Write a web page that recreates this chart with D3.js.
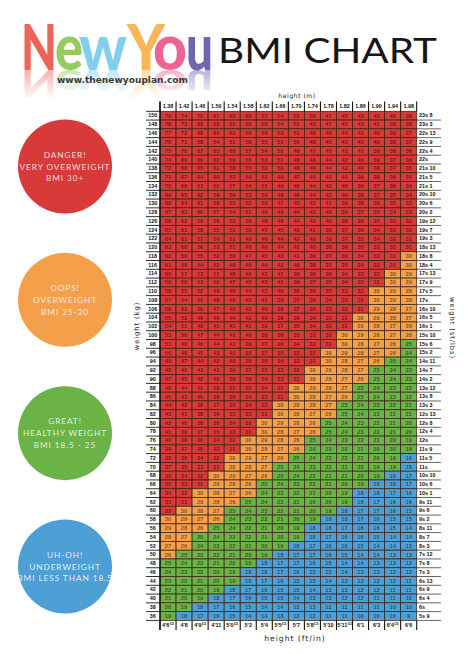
<!DOCTYPE html>
<html><head><meta charset="utf-8">
<script src="https://cdn.jsdelivr.net/npm/d3@7"></script>
<style>body{margin:0;background:#fff}svg{display:block}</style>
</head><body>
<svg id="c" width="474" height="654"></svg>
<script>
// ---------------- DATA ----------------
const heights = ["1.38","1.42","1.46","1.50","1.54","1.58","1.62","1.66","1.70","1.74","1.78","1.82","1.86","1.90","1.94","1.98"];
const heightsFtIn = ["4'6½","4'8","4'9½","4'11","5'0½","5'2","5'4","5'5½","5'7","5'8½","5'10","5'11½","6'1","6'3","6'4½","6'6"];
const weights = [150,148,146,144,142,140,138,136,134,132,130,128,126,124,122,120,118,116,114,112,110,108,106,104,102,100,98,96,94,92,90,88,86,84,82,80,78,76,74,72,70,68,66,64,62,60,58,56,54,52,50,48,46,44,42,40,38,36];
const stLbs = ["23s 8","23s 3","22s 13","22s 9","22s 4","22s","21s 10","21s 5","21s 1","20s 10","20s 6","20s 2","19s 12","19s 7","19s 3","18s 13","18s 8","18s 4","17s 13","17s 9","17s 5","17s","16s 10","16s 5","16s 1","15s 10","15s 6","15s 2","14s 11","14s 7","14s 2","13s 12","13s 8","13s 3","12s 13","12s 8","12s 4","12s","11s 9","11s 5","11s","10s 10","10s 6","10s 1","9s 11","9s 6","9s 2","8s 11","8s 7","8s 3","7s 12","7s 8","7s 3","6s 13","6s 9","6s 4","6s","5s 9"];
// BMI values, one row per weight (kg), one column per height (m)
const bmiRows = [
"79 74 70 67 63 60 57 54 52 50 47 45 43 42 40 38",
"78 73 69 66 62 59 56 54 51 49 47 45 43 41 39 38",
"77 72 68 65 62 58 56 53 51 48 46 44 42 40 39 37",
"76 71 68 64 61 58 55 52 50 48 45 43 42 40 38 37",
"75 70 67 63 60 57 54 52 49 47 45 43 41 39 38 36",
"74 69 66 62 59 56 53 51 48 46 44 42 40 39 37 36",
"72 68 65 61 58 55 53 50 48 46 44 42 40 38 37 35",
"71 67 64 60 57 54 52 49 47 45 43 41 39 38 36 35",
"70 66 63 60 57 54 51 49 46 44 42 40 39 37 36 34",
"69 65 62 59 56 53 50 48 46 44 42 40 38 37 35 34",
"68 64 61 58 55 52 50 47 45 43 41 39 38 36 35 33",
"67 63 60 57 54 51 49 46 44 42 40 39 37 35 34 33",
"66 62 59 56 53 50 48 46 44 42 40 38 36 35 33 32",
"65 61 58 55 52 50 47 45 43 41 39 37 36 34 33 32",
"64 61 57 54 51 49 46 44 42 40 39 37 35 34 32 31",
"63 60 56 53 51 48 46 44 42 40 38 36 35 33 32 31",
"62 59 55 52 50 47 45 43 41 39 37 36 34 33 31 30",
"61 58 54 52 49 46 44 42 40 38 37 35 34 32 31 30",
"60 57 53 51 48 46 43 41 39 38 36 34 33 32 30 29",
"59 56 53 50 47 45 43 41 39 37 35 34 32 31 30 29",
"58 55 52 49 46 44 42 40 38 36 35 33 32 30 29 28",
"57 54 51 48 46 43 41 39 37 36 34 33 31 30 29 28",
"56 53 50 47 45 42 40 38 37 35 33 32 31 29 28 27",
"55 52 49 46 44 42 40 38 36 34 33 31 30 29 28 27",
"54 51 48 45 43 41 39 37 35 34 32 31 29 28 27 26",
"53 50 47 44 42 40 38 36 35 33 32 30 29 28 27 26",
"51 49 46 44 41 39 37 36 34 32 31 30 28 27 26 25",
"50 48 45 43 40 38 37 35 33 32 30 29 28 27 26 24",
"49 47 44 42 40 38 36 34 33 31 30 28 27 26 25 24",
"48 46 43 41 39 37 35 33 32 30 29 28 27 25 24 23",
"47 45 42 40 38 36 34 33 31 30 28 27 26 25 24 23",
"46 44 41 39 37 35 34 32 30 29 28 27 25 24 23 22",
"45 43 40 38 36 34 33 31 30 28 27 26 25 24 23 22",
"44 42 39 37 35 34 32 30 29 28 27 25 24 23 22 21",
"43 41 38 36 35 33 31 30 28 27 26 25 24 23 22 21",
"42 40 38 36 34 32 30 29 28 26 25 24 23 22 21 20",
"41 39 37 35 33 31 30 28 27 26 25 24 23 22 21 20",
"40 38 36 34 32 30 29 28 26 25 24 23 22 21 20 19",
"39 37 35 33 31 30 28 27 26 24 23 22 21 20 20 19",
"38 36 34 32 30 29 27 26 25 24 23 22 21 20 19 18",
"37 35 33 31 30 28 27 25 24 23 22 21 20 19 19 18",
"36 34 32 30 29 27 26 25 24 22 21 21 20 19 18 17",
"35 33 31 29 28 26 25 24 23 22 21 20 19 18 18 17",
"34 32 30 28 27 26 24 23 22 21 20 19 18 18 17 16",
"33 31 29 28 26 25 24 22 21 20 20 19 18 17 16 16",
"32 30 28 27 25 24 23 22 21 20 19 18 17 17 16 15",
"30 29 27 26 24 23 22 21 20 19 18 18 17 16 15 15",
"29 28 26 25 24 22 21 20 19 18 18 17 16 16 15 14",
"28 27 25 24 23 22 21 20 19 18 17 16 16 15 14 14",
"27 26 24 23 22 21 20 19 18 17 16 16 15 14 14 13",
"26 25 23 22 21 20 19 18 17 17 16 15 14 14 13 13",
"25 24 23 21 20 19 18 17 17 16 15 14 14 13 13 12",
"24 23 22 20 19 18 18 17 16 15 15 14 13 13 12 12",
"23 22 21 20 19 18 17 16 15 15 14 13 13 12 12 11",
"22 21 20 19 18 17 16 15 15 14 13 13 12 12 11 11",
"21 20 19 18 17 16 15 15 14 13 13 12 12 11 11 10",
"20 19 18 17 16 15 14 14 13 13 12 11 11 11 10 10",
"19 18 17 16 15 14 14 13 12 12 11 11 10 10 10 9"
];
const categories = ["red","orange","green","blue"];
const categoryLines = [
  ["DANGER!","VERY OVERWEIGHT","BMI 30+"],
  ["OOPS!","OVERWEIGHT","BMI 25-30"],
  ["GREAT!","HEALTHY WEIGHT","BMI 18.5 - 25"],
  ["UH-OH!","UNDERWEIGHT","BMI LESS THAN 18.5"]
];
const logoLetters = ["N","e","w","Y","o","u"];

// ---------------- STYLE ----------------
const catColor = {red:"#d83a39", orange:"#f4a04a", green:"#6bb247", blue:"#4f9fd7"};
const logoColors = ["#ea4a3c","#84c441","#6ec6ec","#f7aa3c","#e94a84","#5b4aa0"];
const logoX = [21,55,79,127,153,186];
const logoW = [36,28,48,38,34,27];

const bmi = bmiRows.map(r => r.split(" ").map(Number));
const svg = d3.select("#c");
const defs = svg.append("defs");
const lg = defs.append("linearGradient").attr("id","fadeG").attr("x1",0).attr("y1",0).attr("x2",0).attr("y2",1);
lg.append("stop").attr("offset",0).attr("stop-color","#fff").attr("stop-opacity",0.5);
lg.append("stop").attr("offset",1).attr("stop-color","#fff").attr("stop-opacity",0);
defs.append("mask").attr("id","fadeM").attr("maskUnits","userSpaceOnUse")
  .append("rect").attr("x",0).attr("y",70).attr("width",240).attr("height",30).attr("fill","url(#fadeG)");

// ---------------- LOGO ----------------
const logo = svg.append("g");
const logoText = logo.append("text").attr("id","logoText").attr("y",70)
  .attr("font-family","Lato, 'Open Sans', sans-serif").attr("font-weight",900).attr("font-size",62);
logoText.selectAll("tspan").data(logoLetters).join("tspan")
  .attr("x",(d,i)=>logoX[i]).attr("textLength",(d,i)=>logoW[i]).attr("lengthAdjust","spacingAndGlyphs")
  .attr("fill",(d,i)=>logoColors[i]).attr("fill-opacity",0.86).text(d=>d);
// faded reflection (a <use> clone of the logo word)
logo.append("g").attr("mask","url(#fadeM)")
  .append("use").attr("href","#logoText")
  .attr("transform","translate(0,70) scale(1,-0.6) translate(0,-70)");
logo.append("text").attr("x",57).attr("y",83).attr("textLength",131).attr("lengthAdjust","spacingAndGlyphs")
  .attr("font-family","'DejaVu Sans', sans-serif").attr("font-weight","bold").attr("font-size",8.5)
  .attr("fill","#3a3a3a").text("www.thenewyouplan.com");
svg.append("text").attr("x",218).attr("y",63).attr("textLength",219).attr("lengthAdjust","spacingAndGlyphs")
  .attr("font-family","Lato, 'Noto Sans', sans-serif").attr("font-size",34).attr("fill","#161616").text("BMI CHART");

// ---------------- LEGEND CIRCLES ----------------
const cy = d3.scalePoint().domain(categories).range([166.5, 566.5]);
const leg = svg.append("g").selectAll("g").data(categories).join("g")
  .attr("transform",d=>`translate(65,${cy(d)})`);
leg.append("circle").attr("r",47).attr("fill",d=>catColor[d]);
leg.each(function(d,i){
  const g = d3.select(this);
  categoryLines[i].forEach((t,k)=>{
    g.append("text").attr("y",(k-1)*11.7+3).attr("text-anchor","middle")
      .attr("font-family","Lato, 'Open Sans', sans-serif").attr("font-size",8.3)
      .attr("letter-spacing",0.9).attr("fill","#fff").attr("fill-opacity",0.82).text(t);
  });
});

// ---------------- TABLE ----------------
const x = d3.scaleBand().domain(heights).range([160, 416.7]);
const y = d3.scaleBand().domain(weights).range([111.3, 620.4]);
const color = d3.scaleThreshold().domain([18.5, 25.5, 30.5])
  .range([catColor.blue, catColor.green, catColor.orange, catColor.red]);
const cells = [];
weights.forEach((w,i)=>heights.forEach((h,j)=>cells.push({w,h,v:bmi[i][j]})));
const tbl = svg.append("g");
tbl.selectAll("rect").data(cells).join("rect")
  .attr("x",d=>x(d.h)).attr("y",d=>y(d.w)).attr("width",x.bandwidth()).attr("height",y.bandwidth())
  .attr("fill",d=>color(d.v)).attr("stroke","#3a2217").attr("stroke-width",0.75);
tbl.selectAll("text").data(cells).join("text")
  .attr("x",d=>x(d.h)+x.bandwidth()/2).attr("y",d=>y(d.w)+y.bandwidth()/2+2)
  .attr("text-anchor","middle").attr("font-family","'Liberation Sans', Arial, sans-serif")
  .attr("font-weight","bold").attr("font-size",5.8).attr("fill","#000").attr("fill-opacity",0.5)
  .text(d=>d.v);

const fontAxis = "'Liberation Sans', Arial, sans-serif";
function styleAxis(g){
  g.select(".domain").remove();
  g.selectAll("text").attr("font-family",fontAxis).attr("font-weight","bold").attr("font-size",5.4).attr("fill","#111");
}
// top axis: height (m)
svg.append("g").attr("transform","translate(0,111.3)")
  .call(d3.axisTop(x).tickSize(0).tickPadding(3.2)).call(styleAxis);
// bottom axis: height (ft/in)
const bAx = svg.append("g").attr("transform","translate(0,620.4)")
  .call(d3.axisBottom(x).tickSize(0).tickPadding(3).tickFormat((d,i)=>heightsFtIn[i])).call(styleAxis);
bAx.selectAll("text").each(function(){
  const t = d3.select(this), s = t.text();
  if (s.includes("½")) {
    t.text(s.replace("½",""));
    t.append("tspan").attr("font-size",3.3).attr("dy",-1.8).text("1/2");
  }
});
// left axis: weight (kg)
svg.append("g").attr("transform","translate(160,0)")
  .call(d3.axisLeft(y).tickSize(0).tickPadding(0)).call(styleAxis)
  .selectAll("text").attr("x",-7.3).attr("text-anchor","middle");
// right axis: weight (st/lbs)
svg.append("g").attr("transform","translate(416.7,0)")
  .call(d3.axisRight(y).tickSize(0).tickPadding(2.3).tickFormat((d,i)=>stLbs[i])).call(styleAxis);

// rules under row labels
const rules = svg.append("g").attr("stroke","#1a1a1a").attr("stroke-width",0.9);
rules.selectAll("line.l").data(weights).join("line").attr("class","l")
  .attr("x1",146).attr("x2",160).attr("y1",d=>y(d)+y.bandwidth()).attr("y2",d=>y(d)+y.bandwidth());
rules.append("line").attr("x1",146).attr("x2",160).attr("y1",y(weights[0])).attr("y2",y(weights[0]));
rules.selectAll("line.r").data(weights).join("line").attr("class","r")
  .attr("x1",416.7).attr("x2",441).attr("y1",d=>y(d)+y.bandwidth()).attr("y2",d=>y(d)+y.bandwidth())
  .attr("stroke","#555");
// column separators in header and footer rows
const bounds = heights.map(h=>x(h)).concat([x(heights[heights.length-1])+x.bandwidth()]);
const sep = svg.append("g").attr("stroke","#111").attr("stroke-width",1.1);
sep.selectAll("line.t").data(bounds).join("line").attr("class","t")
  .attr("x1",d=>d).attr("x2",d=>d).attr("y1",101.5).attr("y2",111.3);
sep.selectAll("line.b").data(bounds).join("line").attr("class","b")
  .attr("x1",d=>d).attr("x2",d=>d).attr("y1",620.4).attr("y2",630);
svg.append("line").attr("x1",160).attr("x2",160).attr("y1",101.5).attr("y2",630)
  .attr("stroke","#111").attr("stroke-width",1.4);

// axis titles
const titleFont = "'DejaVu Sans', sans-serif";
svg.append("text").attr("x",297).attr("y",98).attr("text-anchor","middle")
  .attr("font-family",titleFont).attr("font-size",6.2).attr("letter-spacing",0.5).attr("fill","#222").text("height (m)");
svg.append("text").attr("x",295).attr("y",641).attr("text-anchor","middle")
  .attr("font-family",titleFont).attr("font-size",7.6).attr("letter-spacing",1).attr("fill","#222").text("height (ft/in)");
svg.append("text").attr("transform","translate(139,326) rotate(-90)").attr("text-anchor","middle")
  .attr("font-family",titleFont).attr("font-size",6.8).attr("letter-spacing",0.9).attr("fill","#222").text("weight (kg)");
svg.append("text").attr("transform","translate(450,328) rotate(90)").attr("text-anchor","middle")
  .attr("font-family",titleFont).attr("font-size",6.8).attr("letter-spacing",0.9).attr("fill","#222").text("weight (st/lbs)");
</script>
</body></html>
